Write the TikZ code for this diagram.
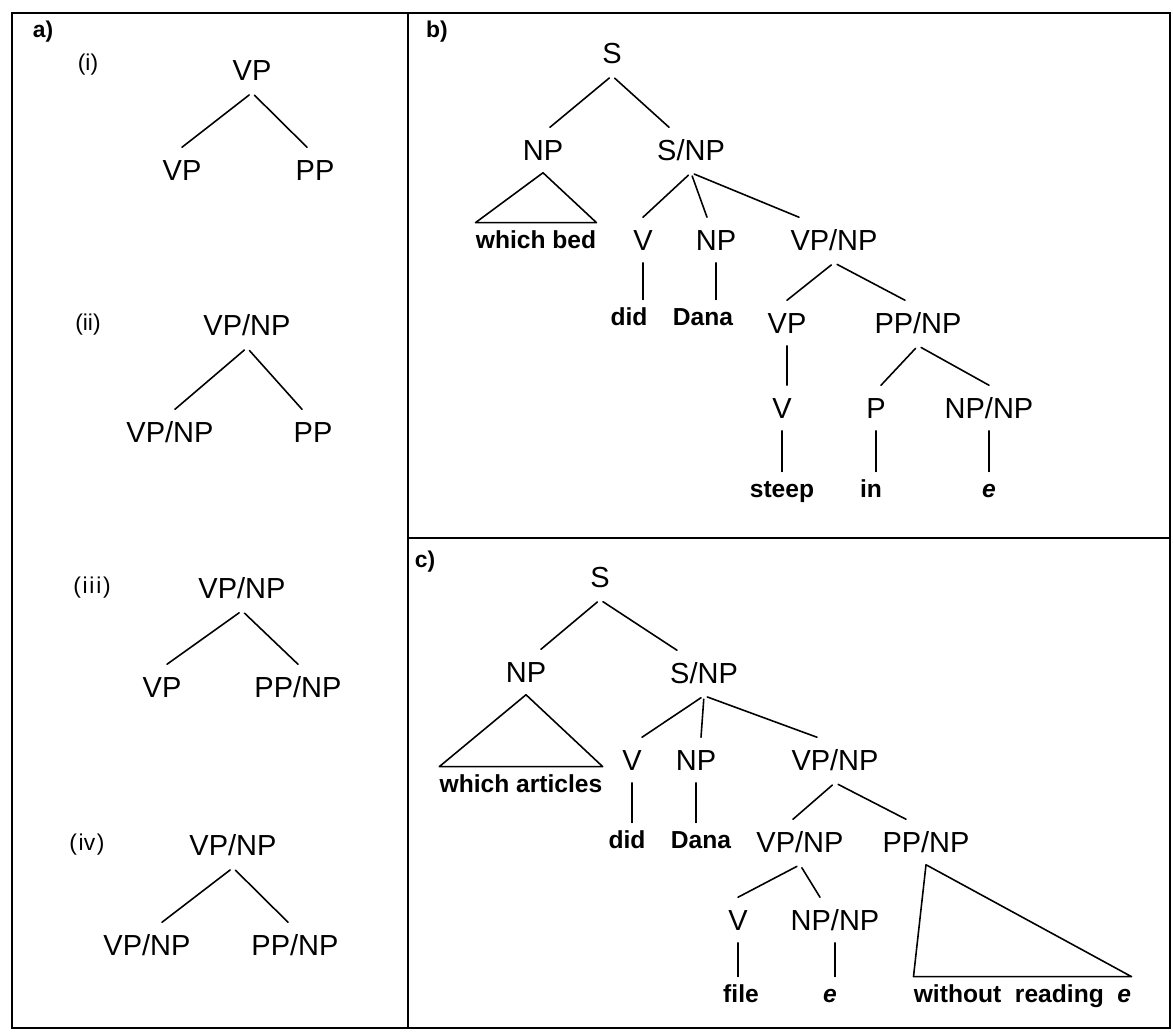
\documentclass[tikz,border=0pt]{standalone}
\usepackage{fontspec}
\setmainfont{Liberation Sans}

\tikzstyle{cat}=[inner xsep=0pt,inner ysep=0.24cm,text height=0.416cm,text depth=0pt,font=\fontsize{16.5}{18}\selectfont]
\tikzstyle{word}=[inner xsep=0pt,inner ysep=0.2cm,text height=0.3cm,text depth=0.08cm,font=\fontsize{14}{16}\selectfont\bfseries]
\tikzstyle{lbl}=[inner sep=0pt,font=\fontsize{13}{15}\selectfont]
\tikzstyle{branch}=[line width=0.9pt,shorten <=2pt]
\tikzstyle{stem}=[line width=0.6pt]
\tikzstyle{roof}=[line width=0.9pt,line join=round]
\tikzstyle{frame}=[line width=0.9pt]

\begin{document}
\begin{tikzpicture}[line cap=round]
	\useasboundingbox (0,0) rectangle (23.46,-20.64);
	\draw[frame] (0.24,-0.26) rectangle (23.40,-20.56);
	\draw[frame] (8.16,-0.26) -- (8.16,-20.56);
	\draw[frame,line width=1.2pt] (8.16,-10.76) -- (23.40,-10.76);
	\node[lbl,font=\fontsize{13}{15}\selectfont\bfseries] (la) at (0.86,-0.64) {a)};
	\node[lbl,font=\fontsize{13}{15}\selectfont\bfseries] (lb) at (8.74,-0.64) {b)};
	\node[lbl,font=\fontsize{13}{15}\selectfont\bfseries] (lc) at (8.50,-11.24) {c)};
	\foreach \name/\x/\y/\txt in {li/1.76/-1.30/(i), lii/1.76/-6.50/(ii), liii/1.84/-11.76/(\kern1pt i\kern1pt i\kern1pt i\kern1pt), liv/1.74/-16.90/(\kern1pt iv\kern1pt)}
	\node[lbl] (\name) at (\x,\y) {\txt};
	\foreach \name/\x/\y/\txt in {ai0/5.04/-1.40/VP, ai1/3.64/-3.40/VP, ai2/6.30/-3.40/PP,
		aii0/4.94/-6.50/{VP/NP}, aii1/3.40/-8.64/{VP/NP}, aii2/6.26/-8.64/PP,
		aiii0/4.84/-11.76/{VP/NP}, aiii1/3.24/-13.74/VP, aiii2/5.96/-13.74/{PP/NP},
		aiv0/4.66/-16.90/{VP/NP}, aiv1/2.94/-18.90/{VP/NP}, aiv2/5.90/-18.90/{PP/NP}}
	\node[cat] (\name) at (\x,\y) {\txt};
	\foreach \name/\x/\y/\txt in {bS/12.24/-1.06/S, bNP/10.86/-3.00/NP, bSNP/13.82/-3.00/{S/NP},
		bV/12.86/-4.80/V, bNPb/14.32/-4.80/NP, bVPNP/16.68/-4.80/{VP/NP},
		bVP/15.74/-6.46/VP, bPPNP/18.36/-6.46/{PP/NP},
		bVb/15.64/-8.16/V, bP/17.52/-8.16/P, bNPNP/19.78/-8.16/{NP/NP}}
	\node[cat] (\name) at (\x,\y) {\txt};
	\foreach \name/\x/\y/\txt in {cS/12.00/-11.54/S, cNP/10.52/-13.44/NP, cSNP/14.08/-13.46/{S/NP},
		cV/12.64/-15.20/V, cNPb/13.92/-15.20/NP, cVPNP/16.70/-15.20/{VP/NP},
		cVPNPb/16.00/-16.84/{VP/NP}, cPPNP/18.52/-16.84/{PP/NP},
		cVb/14.76/-18.40/V, cNPNP/16.70/-18.40/{NP/NP}}
	\node[cat] (\name) at (\x,\y) {\txt};
	\foreach \name/\x/\y/\txt in {bwh/10.72/-4.85/{which bed}, bdid/12.58/-6.39/did, bdana/14.06/-6.39/Dana,
		bsteep/15.64/-9.83/steep, bin/17.42/-9.83/in, be/19.78/-9.83/\textit{e},
		cwh/10.42/-15.73/{which articles}, cdid/12.54/-16.85/did, cdana/14.02/-16.85/Dana,
		cfile/14.82/-19.93/file, ce/16.60/-19.93/\textit{e}, cwre/20.45/-19.93/{without\ \ reading\ \ \textit{e}}}
	\node[word] (\name) at (\x,\y) {\txt};
\foreach \p/\c/\dx in {ai0/ai1/0, ai0/ai2/-0.16, aii0/aii1/0.1, aii0/aii2/-0.22, aiii0/aiii1/0.1, aiii0/aiii2/0, aiv0/aiv1/0.3, aiv0/aiv2/-0.14,
		bS/bNP/0.14, bS/bSNP/-0.44, bSNP/bV/0, bSNP/bNPb/-0.18, bSNP/bVPNP/-0.7, bVPNP/bVP/0, bVPNP/bPPNP/-0.26, bPPNP/bP/0.1, bPPNP/bNPNP/0,
		cS/cNP/0.3, cS/cSNP/-0.54, cSNP/cV/0.2, cSNP/cNPb/0.1, cSNP/cVPNP/-0.36, cVPNP/cVPNPb/-0.14, cVPNP/cPPNP/-0.4, cVPNPb/cVb/0, cVPNPb/cNPNP/-0.3}
	\draw[branch] (\p.south) -- ([xshift=\dx cm]\c.north);
\foreach \p/\c in {bV/bdid, bNPb/bdana, bVP/bVb, bVb/bsteep, bP/bin, bNPNP/be, cV/cdid, cNPb/cdana, cVb/cfile, cNPNP/ce}
	\draw[stem] (\p.south) -- (\p.south |- \c.north);
\foreach \p/\c in {bNP/bwh, cNP/cwh, cPPNP/cwre}
	\draw[roof] (\p.south) -- (\c.north west) -- (\c.north east) -- cycle;
\end{tikzpicture}
\end{document}
